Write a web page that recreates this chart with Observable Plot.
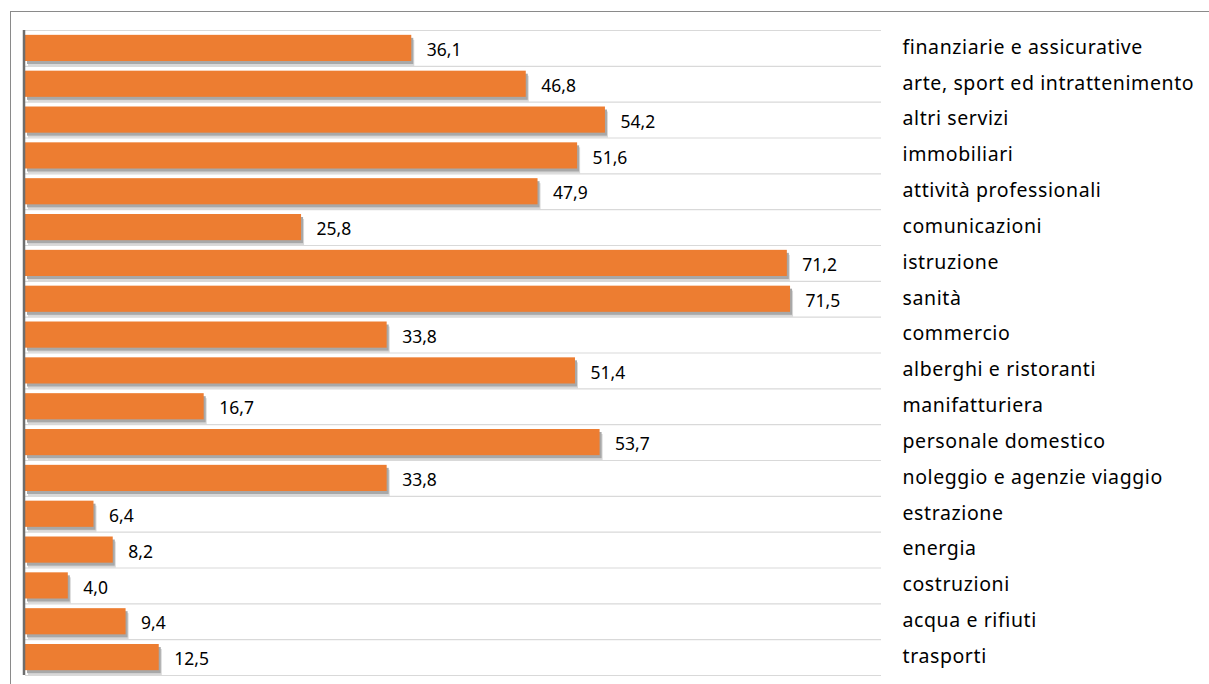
<!DOCTYPE html>
<html>
<head>
<meta charset="utf-8">
<script src="https://cdn.jsdelivr.net/npm/d3@7"></script>
<script src="https://cdn.jsdelivr.net/npm/@observablehq/plot@0.6"></script>
<style>
  html, body { margin: 0; padding: 0; background: #fff; }
  #wrap { position: relative; width: 1209px; height: 684px; overflow: hidden; }
  #border { position: absolute; left: 10px; top: 11px; width: 1300px; height: 800px;
            border-top: 1.5px solid #8a8a8a; border-left: 1.5px solid #8a8a8a; pointer-events: none; }
  .catlabels text { letter-spacing: 0.6px; }
</style>
</head>
<body>
<div id="wrap"><div id="border"></div><div id="chart"></div></div>
<script>
const categories = [
  "finanziarie e assicurative",
  "arte, sport ed intrattenimento",
  "altri servizi",
  "immobiliari",
  "attività professionali",
  "comunicazioni",
  "istruzione",
  "sanità",
  "commercio",
  "alberghi e ristoranti",
  "manifatturiera",
  "personale domestico",
  "noleggio e agenzie viaggio",
  "estrazione",
  "energia",
  "costruzioni",
  "acqua e rifiuti",
  "trasporti"
];
const values = [36.1, 46.8, 54.2, 51.6, 47.9, 25.8, 71.2, 71.5, 33.8, 51.4, 16.7, 53.7, 33.8, 6.4, 8.2, 4.0, 9.4, 12.5];

const data = categories.map((c, i) => ({category: c, value: values[i]}));
const fmt = v => v.toFixed(1).replace(".", ",");

const W = 1209, H = 684, mTop = 30, mBottom = 9, mLeft = 25, mRight = 328;
const pIn = 0.27, pOut = pIn / 2;
const step = (H - mTop - mBottom) / (categories.length - pIn + 2 * pOut);
const xMax = 80;
const font = "'Noto Sans', 'Open Sans', sans-serif";

const chart = Plot.plot({
  width: W,
  height: H,
  marginTop: mTop,
  marginBottom: mBottom,
  marginLeft: mLeft,
  marginRight: mRight,
  style: {fontFamily: font, fontSize: "17px", color: "#000", background: "transparent", overflow: "visible"},
  x: {domain: [0, xMax], axis: null},
  y: {domain: categories, axis: null, paddingInner: pIn, paddingOuter: pOut, round: false},
  marks: [
    // row separators
    Plot.ruleY(categories, {y: d => d, dy: -step / 2, stroke: "#d9d9d9", strokeWidth: 1.2, x1: 0, x2: xMax}),
    Plot.ruleY([categories[categories.length - 1]], {y: d => d, dy: step / 2, stroke: "#d9d9d9", strokeWidth: 1.2, x1: 0, x2: xMax}),
    // shadows
    Plot.barX(data, {x: "value", y: "category", fill: "#d8d8d8", dx: 3, dy: 5}),
    Plot.barX(data, {x: "value", y: "category", fill: "#a8a8a8", dx: 2, dy: 3}),
    // bars
    Plot.barX(data, {x: "value", y: "category", fill: "#ED7D31"}),
    // axis line
    Plot.ruleX([0], {stroke: "#6e6e6e", strokeWidth: 2.5, dx: -1.5}),
    // value labels
    Plot.text(data, {x: "value", y: "category", text: d => fmt(d.value), textAnchor: "start", dx: 15, dy: 2, fill: "#000", fontSize: 17.5}),
    // category labels
    Plot.text(data, {x: xMax, y: "category", text: "category", textAnchor: "start", dx: 21, dy: -1, fill: "#000", fontSize: 19.5, className: "catlabels"})
  ]
});
document.getElementById("chart").appendChild(chart);
</script>
</body>
</html>
